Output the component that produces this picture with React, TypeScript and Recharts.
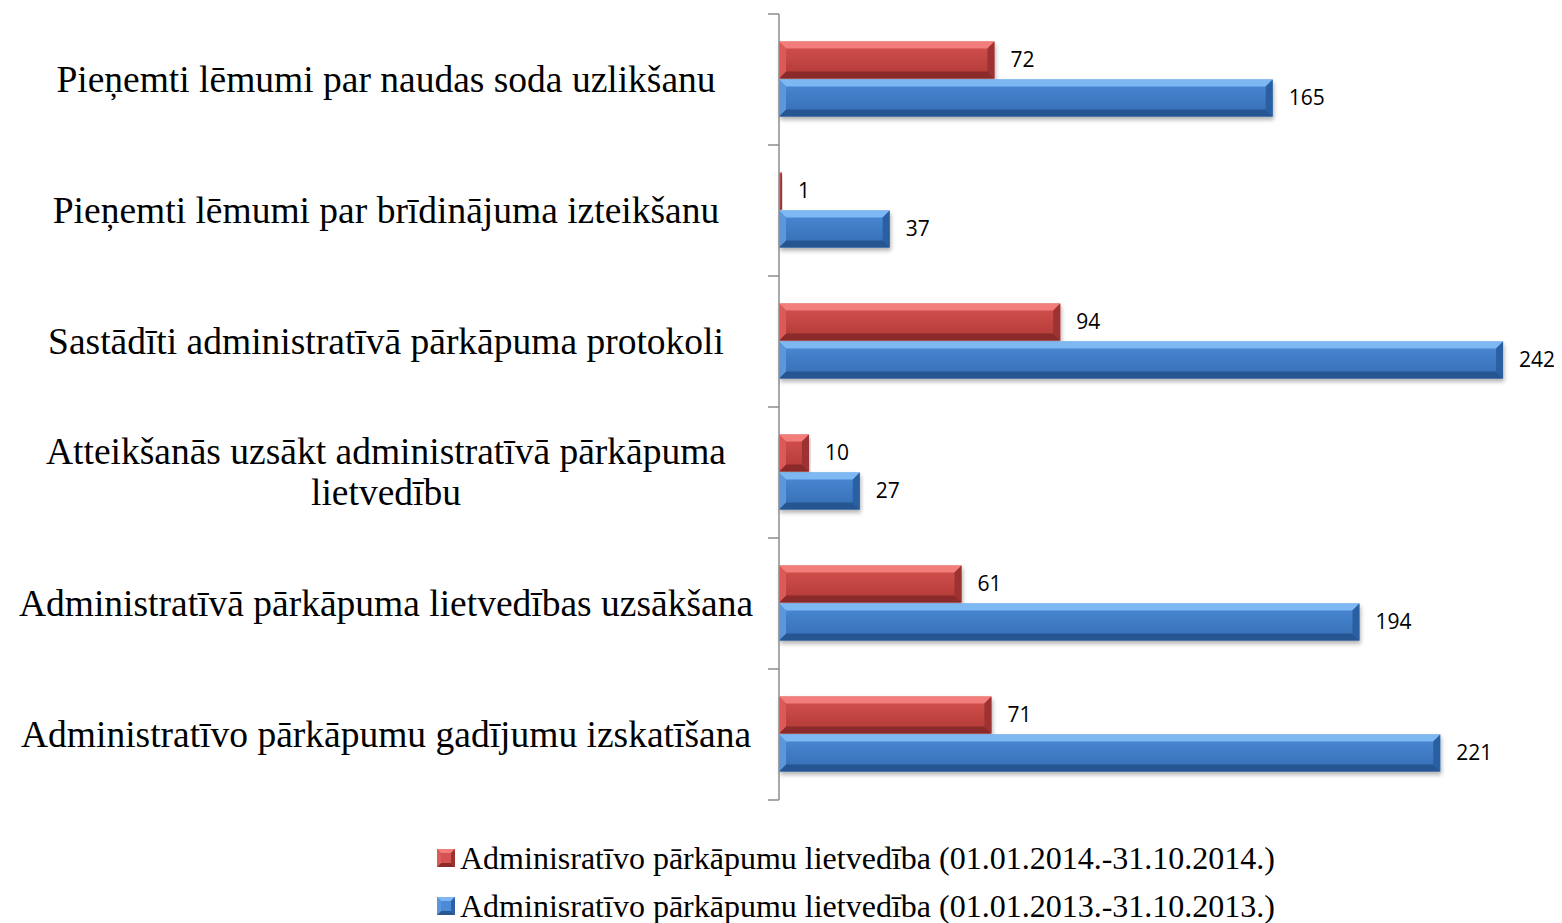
import React from 'react';
import { BarChart, Bar, XAxis, YAxis, LabelList, Legend } from 'recharts';

// kategorijas (no augšas uz leju)
const categories = [
  'Pieņemti lēmumi par naudas soda uzlikšanu',
  'Pieņemti lēmumi par brīdinājuma izteikšanu',
  'Sastādīti administratīvā pārkāpuma protokoli',
  'Atteikšanās uzsākt administratīvā pārkāpuma lietvedību',
  'Administratīvā pārkāpuma lietvedības uzsākšana',
  'Administratīvo pārkāpumu gadījumu izskatīšana',
];
const values2014 = [72, 1, 94, 10, 61, 71];
const values2013 = [165, 37, 242, 27, 194, 221];
const seriesNames = [
  'Adminisratīvo pārkāpumu lietvedība (01.01.2014.-31.10.2014.)',
  'Adminisratīvo pārkāpumu lietvedība (01.01.2013.-31.10.2013.)',
];

const data = categories.map((name, i) => ({ name, y2014: values2014[i], y2013: values2013[i] }));

const AXIS_W = 771;
const AXIS_COLOR = '#8c8c8c';

const RED = { id: 'red', top: '#f27d7a', body0: '#d4524f', body1: '#b13936', bottom: '#8a2b29', left: '#dc5a57', right: '#9c3230' };
const BLUE = { id: 'blue', top: '#7db8f3', body0: '#4b8ad6', body1: '#346db3', bottom: '#285792', left: '#5d97db', right: '#2c61a2' };

const BevelBar = (props: any) => {
  const { x, y, width, height, pal } = props;
  if (!width || width <= 0) return null;
  const b = Math.min(7, width / 2, height / 2);
  const r = x + width;
  const btm = y + height;
  return (
    <g filter="url(#barShadow)">
      <rect x={x} y={y} width={width} height={height} fill={`url(#grad-${pal.id})`} />
      <polygon points={`${x},${y} ${r},${y} ${r - b},${y + b} ${x + b},${y + b}`} fill={pal.top} />
      <polygon points={`${x},${btm} ${r},${btm} ${r - b},${btm - b} ${x + b},${btm - b}`} fill={pal.bottom} />
      <polygon points={`${x},${y} ${x + b},${y + b} ${x + b},${btm - b} ${x},${btm}`} fill={pal.left} />
      <polygon points={`${r},${y} ${r - b},${y + b} ${r - b},${btm - b} ${r},${btm}`} fill={pal.right} />
    </g>
  );
};

// kategoriju teksts + iedaļas starp joslām
const CategoryTick = (props: any) => {
  const { y, payload, index, height, visibleTicksCount } = props;
  const band = height / visibleTicksCount;
  const text: string = payload.value;
  let lines = [text];
  if (text.length > 50) {
    const k = text.lastIndexOf(' ');
    lines = [text.slice(0, k), text.slice(k + 1)];
  }
  const lh = 41;
  const y0 = y - ((lines.length - 1) * lh) / 2;
  return (
    <g>
      <line x1={AXIS_W - 11} x2={AXIS_W} y1={y - band / 2} y2={y - band / 2} stroke={AXIS_COLOR} strokeWidth={1.5} />
      {index === visibleTicksCount - 1 && (
        <line x1={AXIS_W - 11} x2={AXIS_W} y1={y + band / 2} y2={y + band / 2} stroke={AXIS_COLOR} strokeWidth={1.5} />
      )}
      <text x={378} y={y0} textAnchor="middle" fontFamily="'Liberation Serif', 'Times New Roman', serif" fontSize={37.5} fill="#000">
        {lines.map((l, i) => (
          <tspan key={i} x={378} y={y0 + i * lh} dy="0.33em">{l}</tspan>
        ))}
      </text>
    </g>
  );
};

const LegendSwatch = ({ pal }: any) => (
  <svg width={18} height={18} style={{ marginRight: 5 }}>
    <rect x={0} y={0} width={18} height={18} fill={pal.body0} />
    <polygon points="0,0 18,0 14,4 4,4" fill={pal.top} />
    <polygon points="0,18 18,18 14,14 4,14" fill={pal.bottom} />
    <polygon points="0,0 4,4 4,14 0,18" fill={pal.left} />
    <polygon points="18,0 14,4 14,14 18,18" fill={pal.right} />
  </svg>
);

const LegendContent = () => (
  <div style={{ fontFamily: "'Liberation Serif', 'Times New Roman', serif", fontSize: 32, color: '#000' }}>
    {seriesNames.map((n, i) => (
      <div key={i} style={{ height: 48, display: 'flex', alignItems: 'center', whiteSpace: 'nowrap' }}>
        <LegendSwatch pal={i === 0 ? RED : BLUE} />
        <span>{n}</span>
      </div>
    ))}
  </div>
);

export default function App() {
  return (
    <div style={{ width: 1554, height: 915 }}>
      <BarChart
        width={1554}
        height={915}
        data={data}
        layout="vertical"
        margin={{ top: 6, right: 35, bottom: 123, left: 0 }}
        barCategoryGap="21%"
        barGap={1}
      >
        <defs>
          <linearGradient id="grad-red" x1="0" y1="0" x2="0" y2="1">
            <stop offset="0%" stopColor={RED.body0} />
            <stop offset="100%" stopColor={RED.body1} />
          </linearGradient>
          <linearGradient id="grad-blue" x1="0" y1="0" x2="0" y2="1">
            <stop offset="0%" stopColor={BLUE.body0} />
            <stop offset="100%" stopColor={BLUE.body1} />
          </linearGradient>
          <filter id="barShadow" x="-5%" y="-20%" width="110%" height="160%">
            <feDropShadow dx="1" dy="3" stdDeviation="2" floodColor="#000" floodOpacity="0.3" />
          </filter>
        </defs>
        <XAxis type="number" domain={[0, 250]} hide />
        <YAxis
          type="category"
          dataKey="name"
          width={AXIS_W}
          axisLine={{ stroke: AXIS_COLOR, strokeWidth: 1.5 }}
          tickLine={false}
          tick={<CategoryTick />}
          interval={0}
        />
        <Legend
          layout="vertical"
          align="center"
          verticalAlign="middle"
          content={<LegendContent />}
          wrapperStyle={{ top: 826, left: 429, bottom: 'auto', width: 1000 }}
        />
        <Bar dataKey="y2014" name={seriesNames[0]} isAnimationActive={false} shape={(p: any) => <BevelBar {...p} pal={RED} />}>
          <LabelList dataKey="y2014" position="right" offset={16} fill="#000" fontSize={21} fontFamily="'Open Sans', sans-serif" />
        </Bar>
        <Bar dataKey="y2013" name={seriesNames[1]} isAnimationActive={false} shape={(p: any) => <BevelBar {...p} pal={BLUE} />}>
          <LabelList dataKey="y2013" position="right" offset={16} fill="#000" fontSize={21} fontFamily="'Open Sans', sans-serif" />
        </Bar>
      </BarChart>
    </div>
  );
}
